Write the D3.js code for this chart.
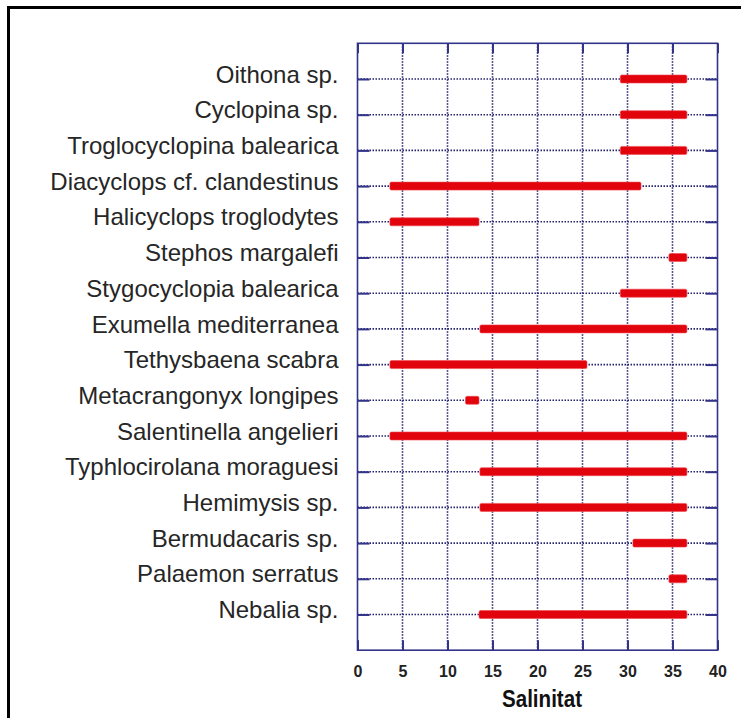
<!DOCTYPE html>
<html>
<head>
<meta charset="utf-8">
<script src="https://cdn.jsdelivr.net/npm/d3@7"></script>
<style>
  body { margin: 0; background: #fff; }
  svg { display: block; }
</style>
</head>
<body>
<div id="chart"></div>
<script>
// species, top to bottom
const species = [
  "Oithona sp.",
  "Cyclopina sp.",
  "Troglocyclopina balearica",
  "Diacyclops cf. clandestinus",
  "Halicyclops troglodytes",
  "Stephos margalefi",
  "Stygocyclopia balearica",
  "Exumella mediterranea",
  "Tethysbaena scabra",
  "Metacrangonyx longipes",
  "Salentinella angelieri",
  "Typhlocirolana moraguesi",
  "Hemimysis sp.",
  "Bermudacaris sp.",
  "Palaemon serratus",
  "Nebalia sp."
];
// salinity range per species (min, max)
const salMin = [29.2, 29.2, 29.2, 3.6, 3.6, 34.6, 29.2, 13.6, 3.6, 12.0, 3.6, 13.6, 13.6, 30.6, 34.6, 13.5];
const salMax = [36.6, 36.6, 36.6, 31.5, 13.5, 36.6, 36.6, 36.6, 25.5, 13.5, 36.6, 36.6, 36.6, 36.6, 36.6, 36.6];
const xTicks = [0, 5, 10, 15, 20, 25, 30, 35, 40];
const xTitle = "Salinitat";

const width = 741;
const height = 718;
const plot = { left: 357.5, right: 717.5, top: 43.3, bottom: 650.2 };
const navy = "#33338a";

const svg = d3.select("#chart").append("svg")
  .attr("width", width)
  .attr("height", height);

// outer frame
svg.append("rect")
  .attr("x", 8.5).attr("y", 7.5)
  .attr("width", 800).attr("height", 800)
  .attr("fill", "none")
  .attr("stroke", "#000")
  .attr("stroke-width", 3);

const x = d3.scaleLinear().domain([0, 40]).range([plot.left, plot.right]);
const y = d3.scaleLinear().domain([0, species.length + 1]).range([plot.top, plot.bottom]);
const rows = species.map((d, i) => i + 1);

// dotted grid
svg.append("g")
  .selectAll("line")
  .data(xTicks.slice(1, -1))
  .join("line")
  .attr("x1", d => x(d)).attr("x2", d => x(d))
  .attr("y1", plot.top).attr("y2", plot.bottom)
  .attr("stroke", "#24246e")
  .attr("stroke-width", 1.6)
  .attr("stroke-dasharray", "1.5,1.5");

svg.append("g")
  .selectAll("line")
  .data(rows)
  .join("line")
  .attr("x1", plot.left).attr("x2", plot.right)
  .attr("y1", d => y(d)).attr("y2", d => y(d))
  .attr("stroke", "#24246e")
  .attr("stroke-width", 1.6)
  .attr("stroke-dasharray", "1.5,1.5");

// tick marks, inward, on all four sides
const tickStyle = g => {
  g.select(".domain").remove();
  g.selectAll(".tick line").attr("stroke", navy).attr("stroke-width", 2);
  g.selectAll(".tick text").remove();
};
svg.append("g")
  .attr("transform", `translate(0,${plot.top})`)
  .call(d3.axisTop(x).tickValues(xTicks).tickSize(-10))
  .call(tickStyle);
svg.append("g")
  .attr("transform", `translate(0,${plot.bottom})`)
  .call(d3.axisBottom(x).tickValues(xTicks).tickSize(-10))
  .call(tickStyle);
svg.append("g")
  .attr("transform", `translate(${plot.left},0)`)
  .call(d3.axisLeft(y).tickValues(rows).tickSize(-12))
  .call(tickStyle);
svg.append("g")
  .attr("transform", `translate(${plot.right},0)`)
  .call(d3.axisRight(y).tickValues(rows).tickSize(-12))
  .call(tickStyle);

// plot frame
svg.append("rect")
  .attr("x", plot.left).attr("y", plot.top)
  .attr("width", plot.right - plot.left).attr("height", plot.bottom - plot.top)
  .attr("fill", "none")
  .attr("stroke", navy)
  .attr("stroke-width", 1.6);

// range bars
svg.append("g")
  .selectAll("rect")
  .data(species)
  .join("rect")
  .attr("x", (d, i) => x(salMin[i]))
  .attr("width", (d, i) => x(salMax[i]) - x(salMin[i]))
  .attr("y", (d, i) => y(i + 1) - 4)
  .attr("height", 8)
  .attr("rx", 1.5)
  .attr("fill", "#e2040c")
  .attr("stroke", "#f04850")
  .attr("stroke-width", 0.6);

// species labels
const yLabels = svg.append("g")
  .attr("transform", `translate(${plot.left},0)`)
  .call(d3.axisLeft(y).tickValues(rows).tickSize(0).tickPadding(19)
    .tickFormat(d => species[d - 1]));
yLabels.select(".domain").remove();
yLabels.selectAll(".tick text")
  .attr("dy", "0.13em")
  .attr("fill", "#262626")
  .style("font-family", "'Liberation Sans', Arial, sans-serif")
  .style("font-size", "24px");

// x tick labels
const xLabels = svg.append("g")
  .attr("transform", `translate(0,${plot.bottom})`)
  .call(d3.axisBottom(x).tickValues(xTicks).tickSize(0).tickPadding(15));
xLabels.select(".domain").remove();
xLabels.selectAll(".tick text")
  .attr("fill", "#222")
  .style("font-family", "'Liberation Sans', Arial, sans-serif")
  .style("font-weight", "bold")
  .style("font-size", "16px");

// axis title
svg.append("text")
  .attr("x", 542)
  .attr("y", 707)
  .attr("text-anchor", "middle")
  .attr("textLength", 80)
  .attr("lengthAdjust", "spacingAndGlyphs")
  .attr("fill", "#111")
  .style("font-family", "'Liberation Sans', Arial, sans-serif")
  .style("font-weight", "bold")
  .style("font-size", "23px")
  .text(xTitle);
</script>
</body>
</html>
